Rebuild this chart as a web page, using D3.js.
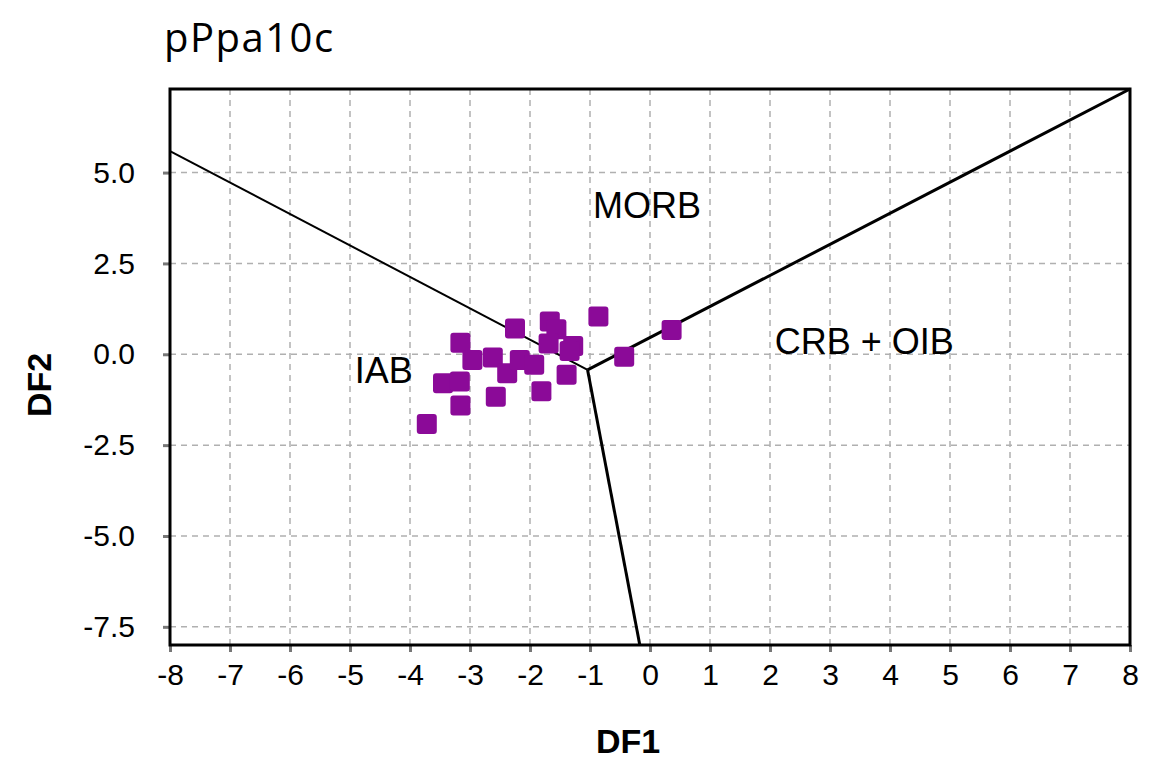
<!DOCTYPE html>
<html>
<head>
<meta charset="utf-8">
<script src="https://cdn.jsdelivr.net/npm/d3@7"></script>
<style>
  body { margin: 0; background: #fff; }
</style>
</head>
<body>
<div id="root"></div>
<script>
//DATA
const df1 = [-3.72, -3.45, -3.16, -3.17, -3.16, -2.96, -2.62, -2.57, -2.38, -2.17, -2.25,
             -1.93, -1.81, -1.67, -1.56, -1.69, -1.39, -1.28, -1.34, -0.86, -0.43, 0.36];
const df2 = [-1.92, -0.80, 0.32, -0.75, -1.41, -0.16, -0.09, -1.17, -0.52, -0.16, 0.71,
             -0.29, -1.02, 0.90, 0.69, 0.30, -0.56, 0.23, 0.09, 1.04, -0.07, 0.67];

//FIELD BOUNDARIES (left arm, triple point, right arm, lower arm)
const boundX = [-8, -1.04, 8, -0.17];
const boundY = [5.59, -0.43, 7.3, -8];

const xTicks = [-8, -7, -6, -5, -4, -3, -2, -1, 0, 1, 2, 3, 4, 5, 6, 7, 8];
const yTicks = [-7.5, -5.0, -2.5, 0.0, 2.5, 5.0];

const fieldNames = ["MORB", "CRB + OIB", "IAB"];
const fieldX = [-0.95, 2.08, -4.92];
const fieldY = [3.76, 0.0, -0.8];

//DIMENSIONS
let width = 1154;
let height = 775;
let margin = {top: 89, right: 24, bottom: 130, left: 170};

let svg = d3.select('#root')
.append('svg')
.attr('width', width)
.attr('height', height)
.style('font-family', 'Liberation Sans, Arial, sans-serif');

//SCALES
let x = d3.scaleLinear()
.domain([-8, 8])
.range([margin.left, width - margin.right]);

let y = d3.scaleLinear()
.domain([-8, 7.3])
.range([height - margin.bottom, margin.top]);

//plain hyphen for negatives, like the original
const fmtX = d => d3.format('d')(d).replace('\u2212', '-');
const fmtY = d => d3.format('.1f')(d).replace('\u2212', '-');

//GRID
svg.append('g')
.selectAll('line')
.data(xTicks.slice(1, -1))
.join('line')
.attr('x1', d => x(d)).attr('x2', d => x(d))
.attr('y1', y(7.3)).attr('y2', y(-8))
.attr('stroke', '#b0b0b0')
.attr('stroke-width', 1.5)
.attr('stroke-dasharray', '6,5');

svg.append('g')
.selectAll('line')
.data(yTicks)
.join('line')
.attr('y1', d => y(d)).attr('y2', d => y(d))
.attr('x1', x(-8)).attr('x2', x(8))
.attr('stroke', '#b0b0b0')
.attr('stroke-width', 1.5)
.attr('stroke-dasharray', '6,5');

//AXES
svg.append('g')
.attr('transform', `translate(0,${y(-8)})`)
.call(d3.axisBottom(x).tickValues(xTicks).tickSize(7).tickSizeOuter(0).tickPadding(12).tickFormat(fmtX))
.call(g => g.select('.domain').remove())
.call(g => g.selectAll('line').attr('stroke', '#777').attr('stroke-width', 3))
.call(g => g.selectAll('text').attr('font-size', 30).attr('font-family', 'Liberation Sans, Arial, sans-serif').attr('fill', '#000'));

svg.append('g')
.attr('transform', `translate(${x(-8)},0)`)
.call(d3.axisLeft(y).tickValues(yTicks).tickSize(7).tickSizeOuter(0).tickPadding(28).tickFormat(fmtY))
.call(g => g.select('.domain').remove())
.call(g => g.selectAll('line').attr('stroke', '#777').attr('stroke-width', 3))
.call(g => g.selectAll('text').attr('font-size', 30).attr('font-family', 'Liberation Sans, Arial, sans-serif').attr('fill', '#000'));

//FRAME
svg.append('rect')
.attr('x', x(-8))
.attr('y', y(7.3))
.attr('width', x(8) - x(-8))
.attr('height', y(-8) - y(7.3))
.attr('fill', 'none')
.attr('stroke', '#000')
.attr('stroke-width', 3);

//BOUNDARY LINES
const tri = [boundX[1], boundY[1]];
svg.append('line')
.attr('x1', x(boundX[0])).attr('y1', y(boundY[0]))
.attr('x2', x(tri[0])).attr('y2', y(tri[1]))
.attr('stroke', '#000').attr('stroke-width', 2);

[2, 3].forEach(i => {
  svg.append('line')
  .attr('x1', x(tri[0])).attr('y1', y(tri[1]))
  .attr('x2', x(boundX[i])).attr('y2', y(boundY[i]))
  .attr('stroke', '#000').attr('stroke-width', 3);
});

//FIELD LABELS
svg.append('g')
.selectAll('text')
.data(fieldNames)
.join('text')
.attr('x', (d, i) => x(fieldX[i]))
.attr('y', (d, i) => y(fieldY[i]))
.attr('font-size', 36)
.text(d => d);

//POINTS
const s = 20;
svg.append('g')
.selectAll('rect')
.data(df1)
.join('rect')
.attr('x', (d, i) => x(d) - s / 2)
.attr('y', (d, i) => y(df2[i]) - s / 2)
.attr('width', s)
.attr('height', s)
.attr('rx', 3)
.attr('fill', '#8b0a98');

//TITLES
svg.append('text')
.attr('x', 164)
.attr('y', 52)
.attr('font-family', 'Open Sans, sans-serif')
.attr('font-size', 40)
.attr('letter-spacing', 1.5)
.text('pPpa10c');

svg.append('text')
.attr('x', 628)
.attr('y', 753)
.attr('text-anchor', 'middle')
.attr('font-size', 34)
.attr('font-weight', 'bold')
.text('DF1');

svg.append('text')
.attr('transform', `translate(51,385) rotate(-90)`)
.attr('text-anchor', 'middle')
.attr('font-size', 34)
.attr('font-weight', 'bold')
.text('DF2');
</script>
</body>
</html>
